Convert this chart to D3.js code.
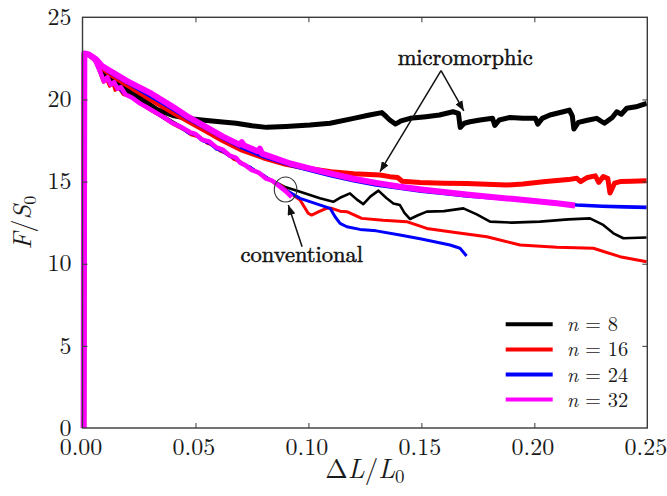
<!DOCTYPE html>
<html><head><meta charset="utf-8">
<script src="https://cdn.jsdelivr.net/npm/d3@7"></script>
<style>
html,body{margin:0;padding:0;background:#fff;}
svg{display:block;}
</style></head>
<body><svg id="chart" width="667" height="496"></svg>
<script>
// ---- data ----
const xTicks = [0, 0.05, 0.10, 0.15, 0.20, 0.25];
const yTicks = [0, 5, 10, 15, 20, 25];
const legendLabels = ["8", "16", "24", "32"];
const seriesColors = ["#000000", "#ff0000", "#0000ff", "#ff00ff"];

const n8Micro = [[0.0005,0],[0.0008,22.8],[0.003,22.72],[0.0055,22.45],[0.008,21.95],[0.01,21.6],[0.014,21.2],[0.02,20.6],[0.026,20.05],[0.0328,19.4],[0.04,19.02],[0.0476,18.82],[0.055,18.72],[0.062,18.63],[0.068,18.55],[0.075,18.4],[0.0815,18.3],[0.09,18.35],[0.1007,18.44],[0.1096,18.55],[0.12,18.85],[0.127,19.05],[0.1325,19.2],[0.1345,18.95],[0.136,18.75],[0.1385,18.5],[0.141,18.7],[0.145,18.85],[0.152,18.95],[0.158,19.05],[0.164,19.25],[0.1664,19.15],[0.1672,18.3],[0.169,18.55],[0.1715,18.64],[0.176,18.75],[0.1815,18.85],[0.1825,18.42],[0.1845,18.75],[0.1892,18.9],[0.195,18.85],[0.2005,18.85],[0.2015,18.5],[0.2035,18.85],[0.2069,19.05],[0.2128,19.25],[0.2155,19.35],[0.2168,19.0],[0.2175,18.2],[0.2195,18.6],[0.224,18.75],[0.2276,18.85],[0.231,18.55],[0.2345,18.9],[0.2365,19.25],[0.2385,19.1],[0.2409,19.46],[0.245,19.55],[0.2497,19.76]];
const n8Conv = [[0.0005,0],[0.0008,22.8],[0.003,22.72],[0.0055,22.4],[0.008,21.8],[0.01,21.4],[0.014,21.0],[0.02,20.35],[0.0254,19.85],[0.0328,19.25],[0.04,18.65],[0.05,17.85],[0.06,17.05],[0.07,16.2],[0.08,15.35],[0.09,14.65],[0.0963,14.38],[0.1051,13.98],[0.111,13.77],[0.1145,14.05],[0.1184,14.28],[0.1215,13.9],[0.1243,13.63],[0.1275,14.1],[0.131,14.45],[0.1345,14.0],[0.1376,13.67],[0.1405,13.57],[0.1425,13.1],[0.145,12.72],[0.1485,12.95],[0.1524,13.17],[0.16,13.2],[0.1686,13.37],[0.1745,13.0],[0.1804,12.56],[0.19,12.5],[0.2025,12.56],[0.215,12.7],[0.2246,12.76],[0.2305,12.36],[0.235,11.85],[0.2394,11.55],[0.2497,11.6]];
const n16Micro = [[0.0005,0],[0.0008,22.8],[0.003,22.72],[0.0055,22.4],[0.009,21.9],[0.012,21.55],[0.02,20.85],[0.03,20.0],[0.04,19.2],[0.047,18.65],[0.055,18.05],[0.062,17.5],[0.07,16.95],[0.08,16.45],[0.09,16.05],[0.1,15.8],[0.11,15.6],[0.12,15.47],[0.1317,15.4],[0.136,15.3],[0.1395,15.25],[0.1415,15.02],[0.1494,14.95],[0.16,14.9],[0.17,14.88],[0.1878,14.79],[0.195,14.85],[0.205,15.0],[0.215,15.12],[0.2188,15.2],[0.2205,15.0],[0.2235,15.25],[0.227,15.35],[0.2285,14.95],[0.2305,15.3],[0.2325,15.2],[0.2335,14.3],[0.2355,14.9],[0.238,15.0],[0.243,15.02],[0.2497,15.05]];
const n16Conv = [[0.0005,0],[0.0008,22.8],[0.003,22.72],[0.0055,22.4],[0.0075,21.7],[0.0092,21.05],[0.0105,21.25],[0.012,20.8],[0.0135,20.95],[0.0144,20.55],[0.016,20.7],[0.018,20.3],[0.021,20.2],[0.0254,19.75],[0.03,19.35],[0.035,18.95],[0.04,18.5],[0.045,18.15],[0.048,17.85],[0.052,17.7],[0.055,17.35],[0.058,17.2],[0.061,16.85],[0.064,16.7],[0.067,16.35],[0.07,16.2],[0.073,15.85],[0.076,15.7],[0.079,15.4],[0.082,15.2],[0.085,14.95],[0.088,14.75],[0.0915,14.35],[0.0963,13.88],[0.0999,13.07],[0.1014,12.96],[0.1051,13.2],[0.108,13.37],[0.1103,13.37],[0.114,13.2],[0.117,13.17],[0.1236,12.76],[0.133,12.65],[0.1435,12.56],[0.1524,12.15],[0.165,11.9],[0.179,11.64],[0.1937,11.14],[0.21,11.0],[0.2261,10.94],[0.2379,10.43],[0.2497,10.12]];
const n24Micro = [[0.0005,0],[0.0008,22.8],[0.003,22.72],[0.0055,22.42],[0.009,21.95],[0.012,21.65],[0.02,21.0],[0.03,20.2],[0.04,19.4],[0.047,18.8],[0.055,18.2],[0.062,17.65],[0.07,17.1],[0.08,16.52],[0.092,16.0],[0.1,15.7],[0.11,15.35],[0.12,15.05],[0.13,14.8],[0.1405,14.59],[0.15,14.42],[0.16,14.27],[0.17,14.13],[0.1848,13.98],[0.2,13.8],[0.21,13.68],[0.2188,13.57],[0.23,13.5],[0.24,13.46],[0.2497,13.43]];
const n24Conv = [[0.0005,0],[0.0008,22.8],[0.003,22.72],[0.0055,22.4],[0.0078,21.6],[0.0095,21.1],[0.011,21.3],[0.0125,20.9],[0.014,21.0],[0.0159,20.75],[0.018,20.4],[0.0254,19.8],[0.03,19.4],[0.035,18.95],[0.04,18.55],[0.044,18.25],[0.047,17.95],[0.05,17.85],[0.053,17.5],[0.056,17.35],[0.059,17.0],[0.062,16.85],[0.065,16.55],[0.068,16.4],[0.071,16.05],[0.074,15.9],[0.077,15.6],[0.08,15.4],[0.083,15.1],[0.086,14.9],[0.0904,14.45],[0.0963,13.98],[0.1096,13.37],[0.1118,12.86],[0.114,12.46],[0.117,12.25],[0.1228,12.09],[0.13,12.0],[0.1405,11.75],[0.15,11.5],[0.1627,11.14],[0.1671,10.94],[0.170,10.47]];
const n32Micro = [[0.0005,0],[0.0008,22.8],[0.003,22.72],[0.006,22.45],[0.0085,22.05],[0.0114,21.8],[0.02,21.1],[0.0306,20.35],[0.04,19.55],[0.047,18.92],[0.055,18.3],[0.062,17.75],[0.0695,17.25],[0.0705,17.4],[0.0715,17.2],[0.0775,16.85],[0.0785,17.0],[0.0795,16.7],[0.092,16.1],[0.1,15.82],[0.11,15.48],[0.12,15.17],[0.13,14.92],[0.14,14.7],[0.15,14.52],[0.16,14.36],[0.17,14.22],[0.18,14.08],[0.19,13.95],[0.2,13.82],[0.21,13.68],[0.218,13.55]];
const n32Conv = [[0.0005,0],[0.0008,22.8],[0.003,22.72],[0.0055,22.4],[0.0078,21.7],[0.0095,21.1],[0.011,21.35],[0.0125,20.9],[0.014,21.05],[0.0155,20.65],[0.017,20.75],[0.019,20.3],[0.022,20.1],[0.0254,19.76],[0.03,19.4],[0.035,19.0],[0.04,18.55],[0.044,18.3],[0.0476,18.0],[0.05,17.9],[0.053,17.55],[0.056,17.45],[0.059,17.1],[0.062,16.95],[0.065,16.6],[0.068,16.45],[0.0697,16.15],[0.072,16.0],[0.075,15.7],[0.078,15.55],[0.081,15.2],[0.084,15.05],[0.0874,14.69],[0.09,14.4],[0.0926,14.05]];

// annotation anchor points (data units)
const microLabel = [0.1694, 22.09];
const microApex = [0.1587, 21.75];
const microTargets = [[0.1688, 19.3], [0.1317, 15.6]];
const convLabel = [0.0971, 10.12];
const convTail = [0.0972, 11.03];
const convHead = [0.0911, 13.57];
const convEllipse = {cx: 0.0899, cy: 14.52, rx: 0.005, ry: 0.76};

// ---- layout ----
const FONT = "'Latin Modern Roman', 'CMU Serif', 'Liberation Serif', serif";
const W = 667, H = 496;
const margin = {left: 82.5, right: 19.7, top: 17.3, bottom: 68};
const svg = d3.select("#chart");
const x = d3.scaleLinear().domain([0, 0.25]).range([margin.left, W - margin.right]);
const y = d3.scaleLinear().domain([0, 25]).range([H - margin.bottom, margin.top]);
const axisColor = "#3a3a3a";
const textColor = "#1a1a1a";

const series = [
  {data: n8Micro, color: seriesColors[0], w: 5},
  {data: n8Conv, color: seriesColors[0], w: 2.6},
  {data: n16Micro, color: seriesColors[1], w: 5},
  {data: n16Conv, color: seriesColors[1], w: 3},
  {data: n24Micro, color: seriesColors[2], w: 3.6},
  {data: n24Conv, color: seriesColors[2], w: 3},
  {data: n32Micro, color: seriesColors[3], w: 6},
  {data: n32Conv, color: seriesColors[3], w: 4.5}
];

const line = d3.line().x(d => x(d[0])).y(d => y(d[1]));
const plotG = svg.append("g");
series.forEach(s => {
  plotG.append("path").attr("d", line(s.data)).attr("fill", "none")
    .attr("stroke", s.color).attr("stroke-width", s.w)
    .attr("stroke-linejoin", "round").attr("stroke-linecap", "butt");
});

// frame
svg.append("rect").attr("x", x(0)).attr("y", y(25))
  .attr("width", x(0.25) - x(0)).attr("height", y(0) - y(25))
  .attr("fill", "none").attr("stroke", axisColor).attr("stroke-width", 1.4);

function styleAxis(g) {
  g.attr("font-family", null).attr("font-size", null);
  g.select(".domain").remove();
  g.selectAll(".tick line").attr("stroke", axisColor).attr("stroke-width", 1);
  g.selectAll(".tick text").attr("fill", textColor).style("font-size", "24px")
    .style("font-family", FONT);
}
const inner = xTicks.slice(1, -1);
const innerY = yTicks.slice(1, -1);
svg.append("g").attr("transform", `translate(0,${y(0)})`)
  .call(d3.axisBottom(x).tickValues(xTicks).tickSizeInner(-5).tickSizeOuter(0).tickPadding(10).tickFormat(d3.format(".2f")))
  .call(styleAxis)
  .call(g => g.selectAll(".tick text").attr("dx", -2))
  .call(g => g.selectAll(".tick").filter(d => d === 0 || d === 0.25).select("line").remove());
svg.append("g").attr("transform", `translate(0,${y(25)})`)
  .call(d3.axisTop(x).tickValues(inner).tickSizeInner(-5).tickSizeOuter(0).tickFormat(""))
  .call(styleAxis);
svg.append("g").attr("transform", `translate(${x(0)},0)`)
  .call(d3.axisLeft(y).tickValues(yTicks).tickSizeInner(-5).tickSizeOuter(0).tickPadding(11).tickFormat(d3.format("d")))
  .call(styleAxis)
  .call(g => g.selectAll(".tick text").attr("dy", "0.3em"))
  .call(g => g.selectAll(".tick").filter(d => d === 0 || d === 25).select("line").remove());
svg.append("g").attr("transform", `translate(${x(0.25)},0)`)
  .call(d3.axisRight(y).tickValues(innerY).tickSizeInner(-5).tickSizeOuter(0).tickFormat(""))
  .call(styleAxis);

// axis titles
const xt = svg.append("text").attr("x", (x(0) + x(0.25)) / 2).attr("y", 478)
  .attr("text-anchor", "middle").attr("fill", textColor).style("font-size", "27px").style("font-family", FONT);
xt.append("tspan").text("Δ");
xt.append("tspan").attr("font-style", "italic").text("L");
xt.append("tspan").text("/");
xt.append("tspan").attr("font-style", "italic").text("L");
xt.append("tspan").attr("dy", 5).style("font-size", "19px").text("0");

const yt = svg.append("text").attr("transform", `translate(31,${(y(0) + y(25)) / 2}) rotate(-90)`)
  .attr("text-anchor", "middle").attr("fill", textColor).style("font-size", "26px").style("font-family", FONT);
yt.append("tspan").attr("font-style", "italic").text("F");
yt.append("tspan").text("/");
yt.append("tspan").attr("font-style", "italic").text("S");
yt.append("tspan").attr("dy", 5).style("font-size", "18px").text("0");

// legend
const leg = svg.append("g").attr("transform", `translate(${x(0.25) - 141.6},${y(25) + 307})`);
legendLabels.forEach((lab, i) => {
  const g = leg.append("g").attr("transform", `translate(0,${i * 25.1})`);
  g.append("line").attr("x1", 0).attr("x2", 47).attr("y1", 0).attr("y2", 0)
    .attr("stroke", seriesColors[i]).attr("stroke-width", 4);
  const t = g.append("text").attr("x", 61).attr("y", 7).attr("fill", textColor)
    .style("font-size", "20.5px").style("font-family", FONT);
  t.append("tspan").attr("font-style", "italic").text("n");
  t.append("tspan").text(" = " + lab);
});

// annotations
const defs = svg.append("defs");
defs.append("marker").attr("id", "ah").attr("viewBox", "0 0 10 8").attr("refX", 10).attr("refY", 4)
  .attr("markerWidth", 10).attr("markerHeight", 8).attr("markerUnits", "userSpaceOnUse")
  .attr("orient", "auto")
  .append("path").attr("d", "M0,0 L10,4 L0,8 Z").attr("fill", "#111");

svg.append("text").attr("x", x(microLabel[0])).attr("y", y(microLabel[1]))
  .attr("text-anchor", "middle").attr("fill", "#111").attr("stroke", "#111").attr("stroke-width", 0.5)
  .style("font-size", "22.5px").style("font-family", FONT).text("micromorphic");
microTargets.forEach(t => {
  svg.append("line").attr("x1", x(microApex[0])).attr("y1", y(microApex[1]))
    .attr("x2", x(t[0])).attr("y2", y(t[1])).attr("stroke", "#111").attr("stroke-width", 1.5)
    .attr("marker-end", "url(#ah)");
});
svg.append("text").attr("x", x(convLabel[0])).attr("y", y(convLabel[1]))
  .attr("text-anchor", "middle").attr("fill", "#111").attr("stroke", "#111").attr("stroke-width", 0.5)
  .style("font-size", "22.5px").style("font-family", FONT).text("conventional");
svg.append("line").attr("x1", x(convTail[0])).attr("y1", y(convTail[1]))
  .attr("x2", x(convHead[0])).attr("y2", y(convHead[1])).attr("stroke", "#111").attr("stroke-width", 1.5)
  .attr("marker-end", "url(#ah)");
svg.append("ellipse").attr("cx", x(convEllipse.cx)).attr("cy", y(convEllipse.cy))
  .attr("rx", x(convEllipse.rx) - x(0)).attr("ry", y(0) - y(convEllipse.ry))
  .attr("fill", "none").attr("stroke", "#333").attr("stroke-width", 1.1);
</script></body></html>
